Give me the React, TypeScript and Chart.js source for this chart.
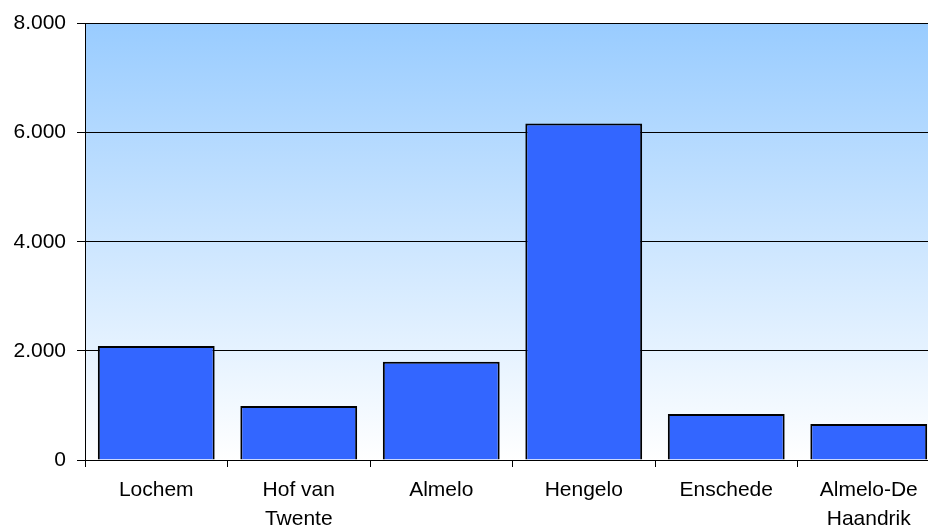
import React, { useEffect, useRef } from "react";
import { Chart, registerables } from "chart.js";

Chart.register(...registerables);

const categories: (string | string[])[] = [
  "Lochem",
  ["Hof van", "Twente"],
  "Almelo",
  "Hengelo",
  "Enschede",
  ["Almelo-De", "Haandrik"],
];
const values: number[] = [2090, 990, 1800, 6170, 845, 660];
const yTicks: number[] = [0, 2000, 4000, 6000, 8000];

const fmt = (v: number) => v.toLocaleString("de-DE");

const bgPlugin = {
  id: "plotBg",
  beforeDraw(chart: any) {
    const { ctx, chartArea } = chart;
    if (!chartArea) return;
    const g = ctx.createLinearGradient(0, chartArea.top, 0, chartArea.bottom);
    g.addColorStop(0, "#99CCFF");
    g.addColorStop(1, "#FFFFFF");
    ctx.save();
    ctx.fillStyle = g;
    ctx.fillRect(chartArea.left, chartArea.top, chartArea.right - chartArea.left, chartArea.bottom - chartArea.top);
    ctx.restore();
  },
};

export default function App() {
  const ref = useRef<HTMLCanvasElement | null>(null);
  useEffect(() => {
    if (!ref.current) return;
    const font = { family: "'Liberation Sans', Arial, sans-serif", size: 21 };
    const chart = new Chart(ref.current, {
      type: "bar",
      data: {
        labels: categories,
        datasets: [
          {
            data: values,
            backgroundColor: "#3366FF",
            borderColor: "#000000",
            borderWidth: 2,
            barPercentage: 0.82,
            categoryPercentage: 1,
          },
        ],
      },
      options: {
        animation: false,
        responsive: false,
        maintainAspectRatio: false,
        layout: { padding: { top: 23, right: 0, bottom: 0, left: 0 } },
        plugins: { legend: { display: false }, tooltip: { enabled: false } },
        scales: {
          x: {
            grid: {
              display: true,
              offset: true,
              drawOnChartArea: false,
              drawTicks: true,
              tickLength: 7,
              color: "#000000",
            },
            border: { display: true, color: "#000000", width: 1 },
            ticks: {
              color: "#000000",
              font: { ...font, lineHeight: 1.38 },
              padding: 9,
              maxRotation: 0,
              autoSkip: false,
            },
            afterFit(scale: any) {
              scale.height = 72;
            },
          },
          y: {
            min: 0,
            max: 8000,
            afterBuildTicks(scale: any) {
              scale.ticks = yTicks.map((v) => ({ value: v }));
            },
            grid: {
              color: "#000000",
              lineWidth: 1,
              drawTicks: true,
              tickLength: 8,
            },
            border: { display: true, color: "#000000", width: 1 },
            ticks: {
              color: "#000000",
              font,
              padding: 11,
              callback: (v: any) => fmt(Number(v)),
            },
            afterFit(scale: any) {
              scale.width = 85;
            },
          },
        },
      },
      plugins: [bgPlugin],
    });
    return () => chart.destroy();
  }, []);
  return (
    <div style={{ position: "fixed", left: 0, top: 0, width: 928, height: 532, overflow: "hidden", background: "#fff" }}>
      <canvas ref={ref} width={940} height={532} style={{ display: "block", width: 940, height: 532 }} />
    </div>
  );
}
